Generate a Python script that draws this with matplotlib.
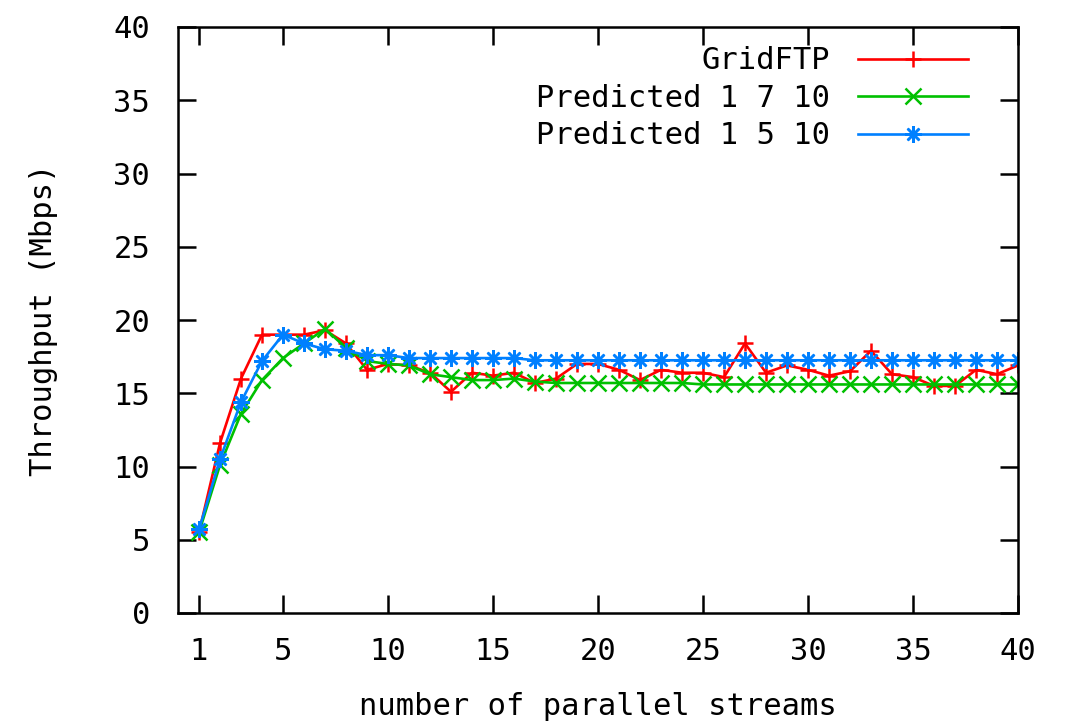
import matplotlib
matplotlib.use("Agg")
import matplotlib.pyplot as plt
import numpy as np

# number of parallel streams
streams = np.arange(1, 41)

# throughput (Mbps)
gridftp = [5.5, 11.6, 16.0, 19.0, 19.0, 19.0, 19.3, 18.4, 16.6, 17.0,
           16.9, 16.4, 15.1, 16.4, 16.2, 16.4, 15.7, 16.0, 17.0, 17.0,
           16.6, 15.9, 16.6, 16.4, 16.4, 16.1, 18.4, 16.4, 16.9, 16.6,
           16.2, 16.5, 17.9, 16.3, 16.1, 15.5, 15.5, 16.6, 16.3, 16.9]
pred_1_7_10 = [5.5, 10.1, 13.6, 15.9, 17.4, 18.4, 19.4, 18.1, 17.2, 17.0,
               16.9, 16.3, 16.1, 15.9, 15.9, 16.0, 15.8, 15.7, 15.7, 15.7,
               15.7, 15.7, 15.7, 15.7, 15.6, 15.6, 15.6, 15.6, 15.6, 15.6,
               15.6, 15.6, 15.6, 15.6, 15.6, 15.6, 15.6, 15.6, 15.6, 15.6]
pred_1_5_10 = [5.7, 10.5, 14.4, 17.2, 19.0, 18.4, 18.0, 17.9, 17.6, 17.6,
               17.4, 17.4, 17.4, 17.4, 17.4, 17.4, 17.25, 17.25, 17.25, 17.25,
               17.25, 17.25, 17.25, 17.25, 17.25, 17.25, 17.25, 17.25, 17.25, 17.25,
               17.25, 17.25, 17.25, 17.25, 17.25, 17.25, 17.25, 17.25, 17.25, 17.25]

labels = ['GridFTP', 'Predicted 1 7 10', 'Predicted 1 5 10']
colors = ['#ff0000', '#00c000', '#0080ff']
markers = ['+', 'x', (8, 2, 0)]

fs = 22
plt.rcParams['font.family'] = 'DejaVu Sans Mono'
plt.rcParams['font.size'] = fs

fig = plt.figure(figsize=(10.8, 7.25), dpi=100)
ax = fig.add_axes([178/1080, 1 - 613/725, 840/1080, 586/725])

for ys, lab, c, m in zip([gridftp, pred_1_7_10, pred_1_5_10], labels, colors, markers):
    ax.plot(streams, ys, color=c, marker=m, markersize=12, markeredgewidth=1.8,
            linewidth=1.9, label=lab)

ax.set_xlim(0, 40)
ax.set_ylim(0, 40)
ax.set_xticks([1, 5, 10, 15, 20, 25, 30, 35, 40])
ax.set_yticks(np.arange(0, 41, 5))

ax.tick_params(axis='both', direction='in', length=13, width=1.8,
               top=True, right=True, labelsize=fs)
ax.tick_params(axis='x', pad=17)
ax.tick_params(axis='y', pad=20)
for s in ax.spines.values():
    s.set_linewidth(1.8)

ax.set_xlabel('number of parallel streams', fontsize=fs, labelpad=19)
ax.set_ylabel('Throughput (Mbps)', fontsize=fs, labelpad=40)

leg = ax.legend(loc='upper right', frameon=False, markerfirst=False,
                handlelength=3.6, handletextpad=0.9, labelspacing=0.28,
                bbox_to_anchor=(0.955, 0.988), borderaxespad=0, fontsize=fs)

fig.savefig('out.png', dpi=100)
